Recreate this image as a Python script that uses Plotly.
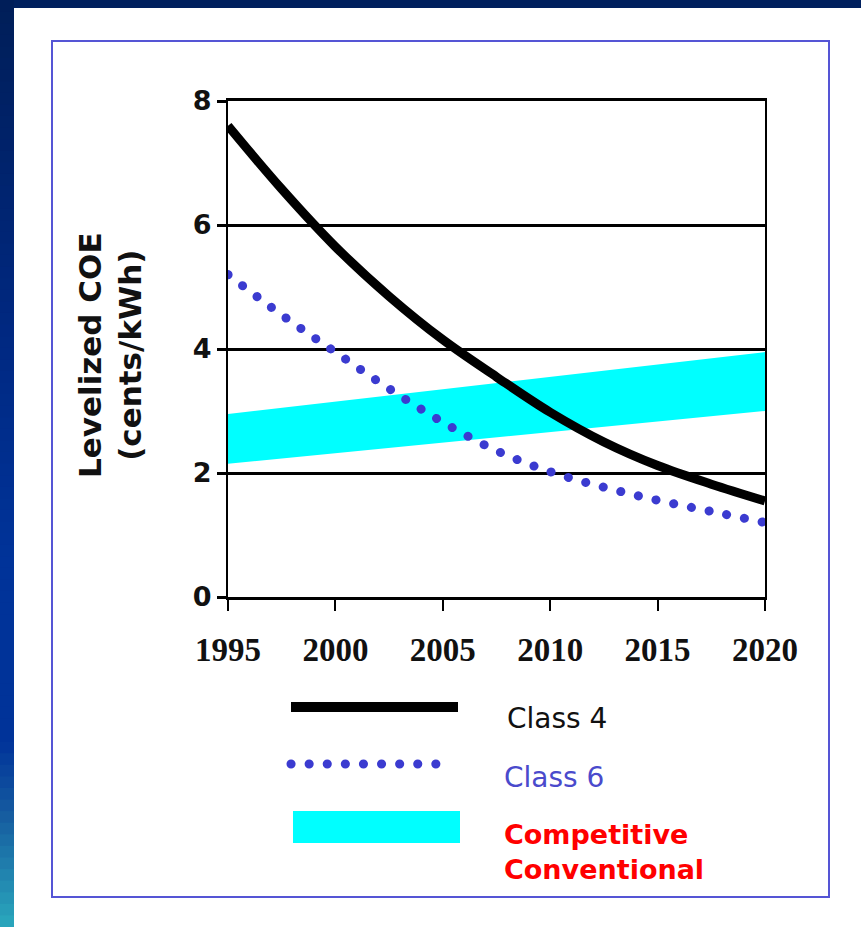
import plotly.graph_objects as go

# ---------------- data ----------------
years = [1995, 1997.5, 2000, 2002.5, 2005, 2007.5, 2010, 2012.5, 2015, 2017.5, 2020]
class4 = [7.6, 6.58, 5.65, 4.85, 4.15, 3.55, 2.98, 2.5, 2.12, 1.82, 1.55]
class6 = [5.2, 4.55, 3.95, 3.36, 2.82, 2.36, 2.02, 1.77, 1.56, 1.38, 1.2]
band_years = [1995, 2020]
band_low = [2.15, 3.0]
band_high = [2.95, 3.95]
x_ticks = [1995, 2000, 2005, 2010, 2015, 2020]
y_ticks = [0, 2, 4, 6, 8]
legend_labels = ["Class 4", "Class 6", "Competitive<br>Conventional"]

# ---------------- layout geometry ----------------
W, H = 861, 927
L, R, T, B = 228, 96, 101, 330
PW, PH = W - L - R, H - T - B

def xp(px):
    return (px - L) / PW

def yp(py):
    return (H - B - py) / PH

C4 = "#000000"
C6 = "#3b3bd0"
CYAN = "#00ffff"
DOT = "8px,10px"

fig = go.Figure()
fig.add_trace(go.Scatter(x=band_years, y=band_low, mode="lines",
                         line=dict(width=0, color=CYAN), hoverinfo="skip",
                         showlegend=False))
fig.add_trace(go.Scatter(x=band_years, y=band_high, mode="lines",
                         line=dict(width=0, color=CYAN), fill="tonexty",
                         fillcolor=CYAN, showlegend=False))
fig.add_trace(go.Scatter(x=years, y=class6, mode="lines",
                         line=dict(color=C6, width=9, dash=DOT, shape="spline"),
                         showlegend=False))
fig.add_trace(go.Scatter(x=years, y=class4, mode="lines",
                         line=dict(color=C4, width=9, shape="spline"),
                         showlegend=False))

shapes = []
# top dark bar
shapes.append(dict(type="rect", xref="paper", yref="paper",
                   x0=xp(0), x1=xp(W), y0=yp(0), y1=yp(8),
                   fillcolor="#00205e", line=dict(width=0), layer="above"))
# left gradient strip
stops = [(0, (0, 30, 88)), (0.35, (0, 40, 128)), (0.6, (0, 51, 153)),
         (0.8, (0, 51, 153)), (0.88, (22, 92, 160)), (1.0, (42, 168, 188))]

def col(t):
    for (t0, c0), (t1, c1) in zip(stops[:-1], stops[1:]):
        if t0 <= t <= t1:
            f = (t - t0) / (t1 - t0) if t1 > t0 else 0
            return "rgb(%d,%d,%d)" % tuple(round(a + (b - a) * f) for a, b in zip(c0, c1))
    return "rgb(%d,%d,%d)" % stops[-1][1]

N = 80
for i in range(N):
    y0, y1 = H * i / N, H * (i + 1) / N + 1
    shapes.append(dict(type="rect", xref="paper", yref="paper",
                       x0=xp(0), x1=xp(14), y0=yp(y1), y1=yp(y0),
                       fillcolor=col((i + 0.5) / N), line=dict(width=0), layer="above"))
# blue frame box
shapes.append(dict(type="rect", xref="paper", yref="paper",
                   x0=xp(52), x1=xp(829), y0=yp(897), y1=yp(41),
                   line=dict(color="#5555d5", width=2), fillcolor="rgba(0,0,0,0)"))
# legend swatches
shapes.append(dict(type="line", xref="paper", yref="paper",
                   x0=xp(291), x1=xp(458), y0=yp(707), y1=yp(707),
                   line=dict(color=C4, width=10)))
shapes.append(dict(type="line", xref="paper", yref="paper",
                   x0=xp(291), x1=xp(445), y0=yp(764), y1=yp(764),
                   line=dict(color=C6, width=9, dash=DOT)))
shapes.append(dict(type="rect", xref="paper", yref="paper",
                   x0=xp(293), x1=xp(460), y0=yp(843), y1=yp(811),
                   fillcolor=CYAN, line=dict(width=0)))

annotations = [
    dict(text="Levelized COE<br>(cents/kWh)", xref="paper", yref="paper",
         x=xp(110), y=yp(355), textangle=-90, showarrow=False,
         xanchor="center", yanchor="middle",
         font=dict(family="DejaVu Sans", size=31, color="#111", weight="bold")),
    dict(text=legend_labels[0], xref="paper", yref="paper", x=xp(505), y=yp(718),
         showarrow=False, xanchor="left", yanchor="middle",
         font=dict(family="DejaVu Sans", size=28, color="#111")),
    dict(text=legend_labels[1], xref="paper", yref="paper", x=xp(502), y=yp(777),
         showarrow=False, xanchor="left", yanchor="middle",
         font=dict(family="DejaVu Sans", size=28, color="#4a4acc")),
    dict(text=legend_labels[2], xref="paper", yref="paper", x=xp(502), y=yp(852),
         showarrow=False, xanchor="left", yanchor="middle", align="left",
         font=dict(family="DejaVu Sans", size=27, color="#ff0000", weight="bold")),
]

fig.update_layout(
    width=W, height=H, autosize=False,
    margin=dict(l=L, r=R, t=T, b=B, pad=0),
    paper_bgcolor="white", plot_bgcolor="white",
    shapes=shapes, annotations=annotations, showlegend=False,
    xaxis=dict(range=[1995, 2020], tickvals=x_ticks, ticktext=[str(v) for v in x_ticks],
               showgrid=False, zeroline=False, showline=True, mirror=True,
               linecolor="black", linewidth=3, ticks="outside", ticklen=11,
               tickwidth=2, tickcolor="black", ticklabelstandoff=10,
               tickfont=dict(family="Liberation Serif", size=33, color="#111", weight="bold")),
    yaxis=dict(range=[0, 8], tickvals=y_ticks, showgrid=True, gridcolor="black",
               gridwidth=3, zeroline=False, showline=True, mirror=True,
               linecolor="black", linewidth=2, ticks="outside", ticklen=9,
               tickwidth=3, tickcolor="black",
               tickfont=dict(family="DejaVu Sans", size=27, color="#111", weight="bold")),
)

post = """
var gd = document.getElementById('{plot_id}');
function fixDots(){
  gd.querySelectorAll('path').forEach(function(p){
    var d = (p.style.strokeDasharray || '').replace(/\\s/g,'');
    if (d === '8px,10px') {
      p.style.strokeLinecap = 'round';
      p.style.strokeDasharray = '0.1px,18px';
    }
  });
}
fixDots();
setTimeout(fixDots, 50);
if (gd.on) { gd.on('plotly_afterplot', fixDots); }
"""

fig.write_html("out.html", post_script=post)
